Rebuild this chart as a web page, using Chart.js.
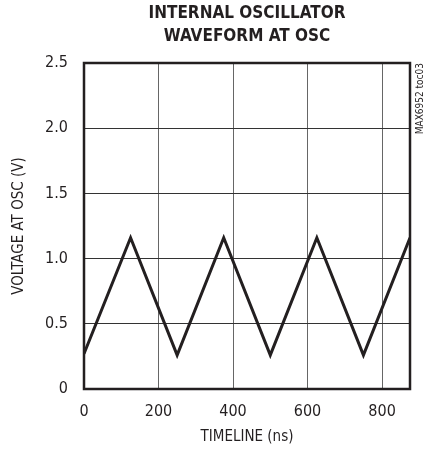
<!DOCTYPE html>
<html>
<head>
<meta charset="utf-8">
<script src="https://cdn.jsdelivr.net/npm/chart.js@4/dist/chart.umd.min.js"></script>
<style>
  html, body { margin: 0; padding: 0; background: #ffffff; }
  #wrap { position: relative; width: 428px; height: 451px; }
</style>
</head>
<body>
<div id="wrap"><canvas id="c" width="428" height="451"></canvas></div>
<script>
// ---- data ----
const timeNs = [0, 125, 250, 375, 500, 625, 750, 875];
const voltage = [0.27, 1.16, 0.26, 1.16, 0.26, 1.16, 0.26, 1.16];
const xTicks = [0, 200, 400, 600, 800];
const yTicks = [0, 0.5, 1.0, 1.5, 2.0, 2.5];
const titleLines = ['INTERNAL OSCILLATOR', 'WAVEFORM AT OSC'];
const xTitle = 'TIMELINE (ns)';
const yTitle = 'VOLTAGE AT OSC (V)';
const sideNote = 'MAX6952 toc03';

const INK = '#231f20';
const FONT = "'Liberation Sans Narrow', 'DejaVu Sans Condensed', sans-serif";

const framePlugin = {
  id: 'frame',
  afterLayout(chart) {
    const tb = chart.titleBlock;
    if (tb) { tb.left = chart.chartArea.left; tb.right = chart.chartArea.right; }
  },
  afterDraw(chart) {
    const {ctx, chartArea: a} = chart;
    ctx.save();
    ctx.strokeStyle = INK;
    ctx.lineWidth = 2.5;
    ctx.strokeRect(a.left, a.top, a.right - a.left, a.bottom - a.top);
    ctx.translate(a.right + 10, a.top);
    ctx.rotate(-Math.PI / 2);
    ctx.fillStyle = INK;
    ctx.font = "10px " + FONT;
    ctx.textAlign = 'right';
    ctx.textBaseline = 'middle';
    ctx.fillText(sideNote, 0, 0);
    ctx.restore();
  }
};

new Chart(document.getElementById('c'), {
  type: 'line',
  data: {
    datasets: [{
      data: timeNs.map((t, i) => ({x: t, y: voltage[i]})),
      borderColor: INK,
      borderWidth: 3,
      pointRadius: 0,
      tension: 0,
      fill: false
    }]
  },
  options: {
    responsive: false,
    animation: false,
    layout: { padding: { left: 0, right: 18, top: 0, bottom: 0 } },
    plugins: {
      legend: { display: false },
      tooltip: { enabled: false },
      title: {
        display: true,
        text: titleLines,
        color: INK,
        font: { family: FONT, size: 17, weight: 'bold', lineHeight: 1.3 },
        padding: { top: 3, bottom: 15.8 }
      }
    },
    scales: {
      x: {
        type: 'linear',
        min: 0, max: 875,
        afterBuildTicks: s => { s.ticks = xTicks.map(v => ({value: v})); },
        afterFit: s => { s.height = 62; },
        grid: { color: '#666666', lineWidth: 1, drawTicks: false },
        border: { display: false },
        ticks: { color: INK, padding: 13, font: { family: FONT, size: 16 }, maxRotation: 0 },
        title: { display: true, text: xTitle, color: INK, padding: { top: 5, bottom: 5 }, font: { family: FONT, size: 15 } }
      },
      y: {
        type: 'linear',
        min: 0, max: 2.5,
        afterBuildTicks: s => { s.ticks = yTicks.map(v => ({value: v})); },
        afterFit: s => { s.width = 84; },
        grid: { color: '#333333', lineWidth: 1, drawTicks: false },
        border: { display: false },
        ticks: {
          color: INK, padding: 16, font: { family: FONT, size: 16 },
          callback: v => v === 0 ? '0' : v.toFixed(1)
        },
        title: { display: true, text: yTitle, color: INK, padding: { top: 10, bottom: 10 }, font: { family: FONT, size: 15 } }
      }
    }
  },
  plugins: [framePlugin]
});
</script>
</body>
</html>
